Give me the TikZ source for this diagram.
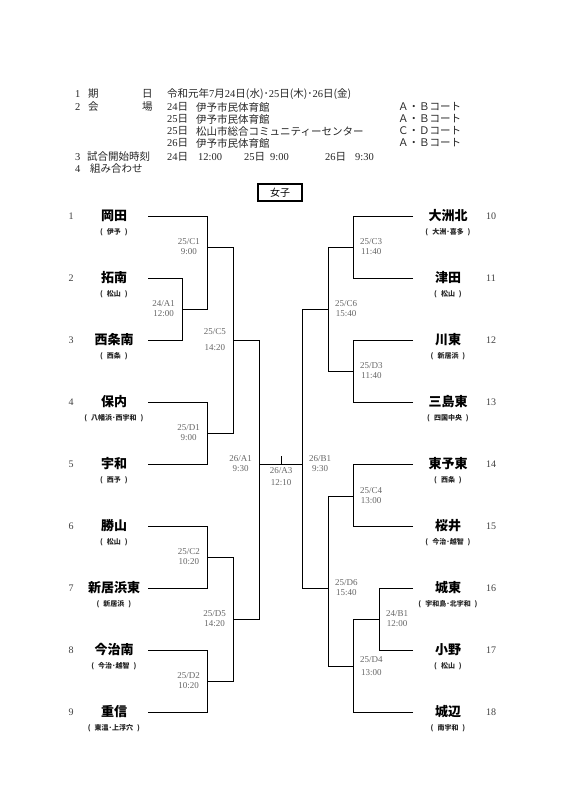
\documentclass[tikz,border=0pt]{standalone}
\usepackage{fontspec}
\setmainfont{Liberation Serif}
\newfontfamily\cjk{Noto Sans CJK JP}
\newcommand\J[1]{{\cjk #1}}
\begin{document}
\begin{tikzpicture}[x=1pt,y=-1pt,
  hdr/.style={anchor=west, inner sep=0, font=\fontsize{10.5}{12}\selectfont, text=black!85},
  team/.style={inner sep=0, font=\cjk\bfseries\fontsize{13}{15}\selectfont},
  sub/.style={inner sep=0, font=\cjk\bfseries\fontsize{7}{8}\selectfont, text=black!85},
  num/.style={inner sep=0, font=\fontsize{10}{12}\selectfont, text=black!75},
  lbl/.style={inner sep=0, align=center, font=\fontsize{9}{10}\selectfont, text=black!60},
  br/.style={line width=1pt, black}]
\useasboundingbox (0,0) rectangle (565,800);
\fill[white] (0,0) rectangle (565,800);

% ---------- header ----------
\node[hdr] (h1a) at (75,94) {1};
\node[hdr] (h1b) at (88,94) {\J{期}};
\node[hdr] (h1c) at (142,94) {\J{日}};
\node[hdr] (h1d) at (167,94) {\J{令和元年}7\J{月}24\J{日(水)･}25\J{日(木)･}26\J{日(金)}};

\node[hdr] (h2a) at (75,107) {2};
\node[hdr] (h2b) at (88,107) {\J{会}};
\node[hdr] (h2c) at (142,107) {\J{場}};
\node[hdr] (h2d) at (167,107) {24\J{日}};
\node[hdr] (h2e) at (196,107) {\J{伊予市民体育館}};
\node[hdr] (h2f) at (398,107) {\J{Ａ・Ｂコート}};

\node[hdr] (h3d) at (167,119) {25\J{日}};
\node[hdr] (h3e) at (196,119) {\J{伊予市民体育館}};
\node[hdr] (h3f) at (398,119) {\J{Ａ・Ｂコート}};

\node[hdr] (h4d) at (167,131) {25\J{日}};
\node[hdr] (h4e) at (196,131) {\J{松山市総合コミュニティーセンター}};
\node[hdr] (h4f) at (398,131) {\J{Ｃ・Ｄコート}};

\node[hdr] (h5d) at (167,143) {26\J{日}};
\node[hdr] (h5e) at (196,143) {\J{伊予市民体育館}};
\node[hdr] (h5f) at (398,143) {\J{Ａ・Ｂコート}};

\node[hdr] (h6a) at (75,157) {3};
\node[hdr] (h6b) at (87,157) {\J{試合開始時刻}};
\node[hdr] (h6c) at (167,157) {24\J{日}};
\node[hdr] (h6d) at (198,157) {12:00};
\node[hdr] (h6e) at (244,157) {25\J{日}};
\node[hdr] (h6f) at (270,157) {9:00};
\node[hdr] (h6g) at (325,157) {26\J{日}};
\node[hdr] (h6h) at (355,157) {9:30};

\node[hdr] (h7a) at (75,169) {4};
\node[hdr] (h7b) at (90,169) {\J{組み合わせ}};

% ---------- title box ----------
\node[draw, line width=1.5pt, minimum width=44pt, minimum height=17pt, inner sep=0,
      font=\cjk\fontsize{10}{12}\selectfont] (girls) at (280,192.5) {女子};

% ---------- teams ----------
\foreach \i/\y/\nm/\ar in {1/216/岡田/伊予, 2/278/拓南/松山, 3/340/西条南/西条,
   4/402/保内/八幡浜･西宇和, 5/464/宇和/西予, 6/526/勝山/松山,
   7/588/新居浜東/新居浜, 8/650/今治南/今治･越智, 9/712/重信/東温･上浮穴}{
  \node[team] (n\i) at (114,\y) {\nm};
  \node[sub] (s\i) at (114,\y+16) {(\hspace{4pt}\ar\hspace{4pt})};
  \node[num] (k\i) at (71,\y) {\i};
  \coordinate (T\i) at (148,\y);
}
\foreach \i/\y/\nm/\ar in {10/216/大洲北/大洲･喜多, 11/278/津田/松山, 12/340/川東/新居浜,
   13/402/三島東/四国中央, 14/464/東予東/西条, 15/526/桜井/今治･越智,
   16/588/城東/宇和島･北宇和, 17/650/小野/松山, 18/712/城辺/南宇和}{
  \node[team] (n\i) at (448,\y) {\nm};
  \node[sub] (s\i) at (448,\y+16) {(\hspace{4pt}\ar\hspace{4pt})};
  \node[num] (k\i) at (491,\y) {\i};
  \coordinate (T\i) at (413,\y);
}

% ---------- junctions ----------
\coordinate (mA24) at (182,309);
\coordinate (mC1) at (207,247);
\coordinate (mD1) at (207,433);
\coordinate (mC5) at (233,340);
\coordinate (mC2) at (207,557);
\coordinate (mD2) at (207,681);
\coordinate (mD5) at (233,619);
\coordinate (mA1) at (259,464);
\coordinate (mC3) at (353,247);
\coordinate (mD3) at (353,371);
\coordinate (mC6) at (328,309);
\coordinate (mC4) at (353,496);
\coordinate (mB24) at (379,619);
\coordinate (mD4) at (353,666);
\coordinate (mD6) at (328,588);
\coordinate (mB1) at (302,464);
\coordinate (champ) at (281,456);

% ---------- bracket lines ----------
\draw[br] (T2) -| (mA24);  \draw[br] (T3) -| (mA24);
\draw[br] (T1) -| (mC1);   \draw[br] (mA24) -| (mC1);
\draw[br] (T4) -| (mD1);   \draw[br] (T5) -| (mD1);
\draw[br] (mC1) -| (mC5);  \draw[br] (mD1) -| (mC5);
\draw[br] (T6) -| (mC2);   \draw[br] (T7) -| (mC2);
\draw[br] (T8) -| (mD2);   \draw[br] (T9) -| (mD2);
\draw[br] (mC2) -| (mD5);  \draw[br] (mD2) -| (mD5);
\draw[br] (mC5) -| (mA1);  \draw[br] (mD5) -| (mA1);

\draw[br] (T10) -| (mC3);  \draw[br] (T11) -| (mC3);
\draw[br] (T12) -| (mD3);  \draw[br] (T13) -| (mD3);
\draw[br] (mC3) -| (mC6);  \draw[br] (mD3) -| (mC6);
\draw[br] (T14) -| (mC4);  \draw[br] (T15) -| (mC4);
\draw[br] (T16) -| (mB24); \draw[br] (T17) -| (mB24);
\draw[br] (mB24) -| (mD4); \draw[br] (T18) -| (mD4);
\draw[br] (mC4) -| (mD6);  \draw[br] (mD4) -| (mD6);
\draw[br] (mC6) -| (mB1);  \draw[br] (mD6) -| (mB1);

\draw[br] (mA1) -- (mB1);
\draw[br] (champ) -- (champ |- mA1);

% ---------- match labels ----------
\node[lbl, anchor=east] (lA24) at ([xshift=-7pt]mA24) {24/A1\\12:00};
\node[lbl, anchor=east] (lC1) at ([xshift=-7pt]mC1) {25/C1\\9:00};
\node[lbl, anchor=east] (lD1) at ([xshift=-7pt]mD1) {25/D1\\9:00};
\node[lbl, anchor=east] (lC5) at ([xshift=-7pt]mC5) {25/C5\\[6pt]14:20};
\node[lbl, anchor=east] (lC2) at ([xshift=-7pt]mC2) {25/C2\\10:20};
\node[lbl, anchor=east] (lD2) at ([xshift=-7pt]mD2) {25/D2\\10:20};
\node[lbl, anchor=east] (lD5) at ([xshift=-7pt]mD5) {25/D5\\14:20};
\node[lbl, anchor=east] (lA1) at ([xshift=-7pt]mA1) {26/A1\\9:30};

\node[lbl, anchor=west] (lC3) at ([xshift=7pt]mC3) {25/C3\\11:40};
\node[lbl, anchor=west] (lD3) at ([xshift=7pt]mD3) {25/D3\\11:40};
\node[lbl, anchor=west] (lC6) at ([xshift=7pt]mC6) {25/C6\\15:40};
\node[lbl, anchor=west] (lC4) at ([xshift=7pt]mC4) {25/C4\\13:00};
\node[lbl, anchor=west] (lB24) at ([xshift=7pt]mB24) {24/B1\\12:00};
\node[lbl, anchor=west] (lD4) at ([xshift=7pt]mD4) {25/D4\\[3pt]13:00};
\node[lbl, anchor=west] (lD6) at ([xshift=7pt]mD6) {25/D6\\15:40};
\node[lbl, anchor=west] (lB1) at ([xshift=7pt]mB1) {26/B1\\9:30};

\node[lbl, anchor=north] (lA3) at (281,467) {26/A3\\[2pt]12:10};
\end{tikzpicture}
\end{document}
